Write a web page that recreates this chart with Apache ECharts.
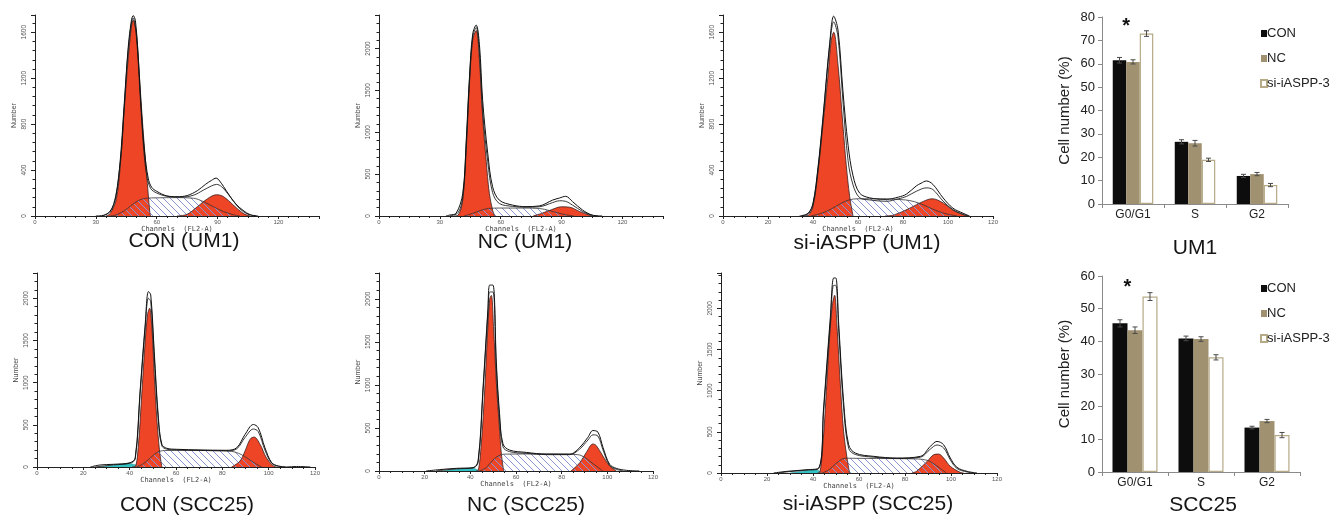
<!DOCTYPE html>
<html>
<head>
<meta charset="utf-8">
<script src="https://cdn.jsdelivr.net/npm/echarts@6/dist/echarts.min.js"></script>
<style>
  html, body { margin: 0; background: #fff; }
  #main { width: 1334px; height: 515px; }
</style>
</head>
<body>
<div id="main"></div>
<script>
// ---- histogram data: [channel, count] ----
var UM1_CON_RAW = [[30,0],[35,12],[38,70],[40,180],[42,480],[44,980],[46,1480],[47.5,1700],[48.4,1745],[49.5,1700],[51,1350],[52.5,900],[54,560],[55.8,330],[57.5,250],[60,215],[65,175],[70,168],[75,178],[80,220],[84,275],[87,310],[89.3,330],[91,305],[93,255],[96,175],[99,105],[102.5,50],[106,12],[110,0]];
var UM1_CON_FIT = [[33,0],[38,60],[42,460],[44,950],[46,1450],[48.4,1725],[50,1560],[52,1000],[53.5,600],[55,360],[57,240],[60,200],[65,172],[72,165],[78,180],[83,225],[87,262],[89.5,275],[92,255],[95,195],[98,125],[101,62],[105,15],[109,0]];
var UM1_CON_G1 = [[35,0],[37,20],[40,140],[42,430],[44.3,1000],[46.8,1530],[48.4,1705],[50,1590],[51.7,1150],[53.4,720],[55,370],[56.6,30],[57,0]];
var UM1_CON_S = [[37,0],[40,10],[44,45],[47,85],[51,135],[55,155],[60,158],[70,160],[78,155],[83,125],[88,80],[93,38],[98,10],[101,0]];
var UM1_CON_G2 = [[70,0],[75,15],[80,80],[85,150],[89.5,185],[93,168],[97.7,96],[102.6,23],[106,0]];
var UM1_CON_MARKS = [47, 88];

var UM1_NC_RAW = [[33,0],[35,12],[38,32],[41.3,270],[43,900],[44.6,1660],[46.2,2175],[47.9,2280],[49.5,2050],[51.1,1380],[53.6,750],[56,350],[59.3,190],[65.9,130],[72.5,112],[79,120],[85.6,190],[89,215],[92,235],[95.4,172],[100.3,72],[105,12],[110,0]];
var UM1_NC_FIT = [[35,0],[39,40],[41.3,230],[43,850],[44.6,1620],[46.2,2140],[47.9,2250],[49.5,1950],[51.1,1250],[53.6,650],[56,280],[59.3,150],[65.9,115],[72.5,105],[79,110],[85.6,160],[89,182],[92,175],[95.4,130],[100.3,55],[105,8],[108,0]];
var UM1_NC_G1 = [[37,0],[39,10],[41.3,190],[43,790],[44.6,1580],[46.2,2100],[47.9,2215],[49.5,1860],[51.1,1180],[52.8,670],[54.4,270],[56,70],[57,0]];
var UM1_NC_S = [[42,0],[46,30],[50,65],[54,90],[60,95],[70,95],[79,90],[84,65],[88,38],[92,15],[96,0]];
var UM1_NC_G2 = [[76,0],[80,30],[85,75],[90,110],[94,105],[99,52],[103.5,12],[105,0]];
var UM1_NC_MARKS = [47, 92];

var UM1_SI_RAW = [[34,0],[37.8,24],[40,112],[42.2,420],[44.4,850],[47.4,1500],[49.2,1740],[51.1,1620],[53.3,1090],[55.6,615],[57.8,350],[60.7,200],[65.2,158],[72.6,145],[78,165],[81.5,190],[85.9,262],[88,285],[90.4,305],[93.3,275],[97.8,158],[102.2,68],[106.7,24],[109.6,0]];
var UM1_SI_FIT = [[35,0],[38,20],[40,100],[42.2,400],[44.4,830],[47.4,1480],[49.2,1690],[51.1,1560],[53.3,1000],[55.6,480],[57.8,270],[60.7,160],[65.2,140],[72.6,128],[78,150],[81.5,170],[85.9,215],[90.4,245],[93.3,230],[97.8,130],[102.2,55],[106.7,15],[109,0]];
var UM1_SI_G1 = [[36,0],[37.8,5],[40,83],[42.2,380],[44.4,790],[46.7,1230],[48.1,1530],[49.2,1600],[51.1,1320],[53.3,790],[54.8,440],[56.3,170],[57.8,0]];
var UM1_SI_S = [[39,0],[44,25],[48,60],[52,105],[56,140],[60,150],[70,150],[81,140],[85,125],[89,97],[93,62],[96,38],[100,15],[104,0]];
var UM1_SI_G2 = [[72,0],[76,9],[83,68],[89,127],[93,150],[98,112],[102,53],[107,9],[109,0]];
var UM1_SI_MARKS = [48, 95.5];

var SCC_CON_RAW = [[23,0],[27.3,24],[33,32],[40.2,51],[42.4,110],[44.5,900],[46.7,1690],[48.1,2080],[49.1,2040],[50.6,1370],[52.4,583],[53.9,270],[56,222],[60.3,210],[70.4,202],[81.9,198],[86.2,228],[89.8,386],[93.4,504],[95.5,465],[98.4,228],[101.3,51],[104.2,12],[107.8,0],[112,6],[118,0]];
var SCC_CON_FIT = [[25,0],[33,25],[40.2,45],[42.4,95],[44.5,860],[46.7,1650],[48.1,2000],[49.1,1960],[50.6,1300],[52.4,540],[53.9,250],[56,212],[60.3,202],[70.4,196],[81.9,192],[86.2,215],[89.8,350],[93.4,450],[95.5,420],[98.4,200],[101.3,45],[104.2,8],[107,0]];
var SCC_CON_DEB = [[27,0],[31,12],[35,30],[40,38],[43,20],[44,0]];
var SCC_CON_G1 = [[41,0],[42.4,5],[43.8,270],[45.3,900],[46.7,1490],[47.7,1805],[48.6,1883],[49.6,1650],[50.6,1095],[51.7,583],[52.9,190],[53.9,0]];
var SCC_CON_S = [[43,0],[46,40],[49,110],[52,175],[55,195],[65,198],[75,195],[84,185],[88,150],[91,100],[94,45],[97,0]];
var SCC_CON_G2 = [[84,0],[87.6,70],[89.8,190],[92,330],[93.7,355],[96.3,268],[99,110],[102,12],[103.5,0]];
var SCC_CON_MARKS = [48.6, 93.4];

var SCC_NC_RAW = [[20.7,0],[26.6,16],[33.9,31],[41.2,39],[43.4,118],[45.5,940],[47.7,1880],[48.5,2160],[49.9,2160],[51.4,1254],[52.8,666],[54.3,314],[57.2,243],[64.5,216],[73.3,196],[83.5,196],[87.9,274],[91.5,392],[93.7,470],[95.9,451],[98.1,274],[101,78],[103.9,31],[108.3,8],[114,0]];
var SCC_NC_FIT = [[25,0],[33.9,25],[41.2,35],[43.4,100],[45.5,900],[47.7,1830],[48.5,2080],[49.9,2080],[51.4,1180],[52.8,600],[54.3,280],[57.2,225],[64.5,205],[73.3,190],[83.5,190],[87.9,255],[91.5,360],[93.7,420],[95.9,405],[98.1,245],[101,65],[103.9,20],[107,0]];
var SCC_NC_DEB = [[28,0],[32,15],[37,28],[41,32],[43,15],[44,0]];
var SCC_NC_G1 = [[42.5,0],[43.4,5],[44.8,314],[46.3,940],[47.4,1530],[48.5,2000],[49.2,2040],[50.2,1650],[51.4,1020],[52.6,550],[53.6,196],[54.6,0]];
var SCC_NC_S = [[44,0],[47,40],[50,130],[53,185],[56,196],[70,198],[80,196],[87,190],[90,160],[92.5,110],[95,60],[98,0]];
var SCC_NC_G2 = [[84,0],[85,20],[88,98],[90.8,216],[93.7,314],[95.2,294],[98,176],[101,59],[104,0]];
var SCC_NC_MARKS = [48.2, 93];

var SCC_SI_RAW = [[22.9,0],[28.7,20],[37.4,40],[42.5,61],[44.6,790],[47.5,1880],[49,2370],[49.9,2370],[51.2,1800],[53.3,870],[55.5,343],[58.4,242],[66.4,202],[76.5,182],[86.7,202],[91,323],[93.9,384],[96.8,343],[99.7,182],[102.6,69],[107,20],[111.3,0]];
var SCC_SI_FIT = [[25,0],[30,18],[37.4,35],[42.5,55],[44.6,740],[47.5,1820],[49,2280],[49.9,2280],[51.2,1720],[53.3,800],[55.5,300],[58.4,225],[66.4,192],[76.5,176],[86.7,192],[91,290],[93.9,340],[96.8,305],[99.7,160],[102.6,55],[107,12],[110,0]];
var SCC_SI_DEB = [[30,0],[33,12],[37,28],[41,38],[43,20],[44,0]];
var SCC_SI_G1 = [[42,0],[42.9,5],[44.3,343],[45.8,990],[47.2,1636],[48.4,2040],[49.4,2160],[50.4,1800],[51.9,1070],[53.3,505],[54.8,182],[55.9,0]];
var SCC_SI_S = [[44,0],[47,40],[50,115],[54,180],[60,178],[75,175],[86,170],[89,158],[91,140],[95,61],[98,0]];
var SCC_SI_G2 = [[83,0],[85,20],[89.6,140],[92.5,222],[94.6,230],[96.8,182],[99.7,81],[104,8],[105.5,0]];
var SCC_SI_MARKS = [49.3, 95];

// ---- bar chart data ----
var phases = ['G0/G1', 'S', 'G2'];
var groups = ['CON', 'NC', 'si-iASPP-3'];
var UM1_CON = [61.5, 26.6, 12.0];
var UM1_NC = [60.8, 26.0, 12.8];
var UM1_SI = [72.9, 18.9, 8.1];
var UM1_CON_ERR = [1.2, 0.9, 0.7];
var UM1_NC_ERR = [0.9, 1.2, 0.7];
var UM1_SI_ERR = [1.2, 0.7, 0.7];
var SCC_CON = [45.5, 40.9, 13.6];
var SCC_NC = [43.4, 40.7, 15.6];
var SCC_SI = [53.7, 35.1, 11.3];
var SCC_CON_ERR = [1.1, 0.7, 0.4];
var SCC_NC_ERR = [1.0, 0.7, 0.5];
var SCC_SI_ERR = [1.2, 0.8, 0.8];
var UM1_STAR = 76;
var SCC_STAR = 56.5;

var FONT = '"Liberation Sans", Arial, sans-serif';
var RED = '#ee4526';

function hatchCanvas() {
  var c = document.createElement('canvas');
  c.width = 7; c.height = 7;
  var ctx = c.getContext('2d');
  ctx.strokeStyle = '#8c95d4';
  ctx.lineWidth = 1;
  ctx.beginPath();
  ctx.moveTo(0, 0); ctx.lineTo(7, 7);
  ctx.moveTo(-1, 6); ctx.lineTo(1, 8);
  ctx.moveTo(6, -1); ctx.lineTo(8, 1);
  ctx.stroke();
  return c;
}
var HATCH = hatchCanvas();

var panels = [
  { title: 'CON (UM1)', tx: 184, ty: 241, grid: { left: 35, top: 15, width: 284, height: 201 }, xmax: 140, xstep: 30, xminor: 6, ymax: 1750, ystep: 400,
    raw: UM1_CON_RAW, fit: UM1_CON_FIT, g1: UM1_CON_G1, s: UM1_CON_S, g2: UM1_CON_G2, deb: null, marks: UM1_CON_MARKS },
  { title: 'NC (UM1)', tx: 525, ty: 242, grid: { left: 379, top: 15, width: 284, height: 201 }, xmax: 140, xstep: 30, xminor: 6, ymax: 2400, ystep: 500,
    raw: UM1_NC_RAW, fit: UM1_NC_FIT, g1: UM1_NC_G1, s: UM1_NC_S, g2: UM1_NC_G2, deb: null, marks: UM1_NC_MARKS },
  { title: 'si-iASPP (UM1)', tx: 867, ty: 243, grid: { left: 723, top: 15, width: 270, height: 201 }, xmax: 120, xstep: 20, xminor: 4, ymax: 1750, ystep: 400,
    raw: UM1_SI_RAW, fit: UM1_SI_FIT, g1: UM1_SI_G1, s: UM1_SI_S, g2: UM1_SI_G2, deb: null, marks: UM1_SI_MARKS },
  { title: 'CON (SCC25)', tx: 187, ty: 505, grid: { left: 37, top: 273, width: 278, height: 194 }, xmax: 120, xstep: 20, xminor: 4, ymax: 2300, ystep: 500,
    raw: SCC_CON_RAW, fit: SCC_CON_FIT, g1: SCC_CON_G1, s: SCC_CON_S, g2: SCC_CON_G2, deb: SCC_CON_DEB, marks: SCC_CON_MARKS },
  { title: 'NC (SCC25)', tx: 526, ty: 505, grid: { left: 379, top: 273, width: 274, height: 198 }, xmax: 120, xstep: 20, xminor: 4, ymax: 2300, ystep: 500,
    raw: SCC_NC_RAW, fit: SCC_NC_FIT, g1: SCC_NC_G1, s: SCC_NC_S, g2: SCC_NC_G2, deb: SCC_NC_DEB, marks: SCC_NC_MARKS },
  { title: 'si-iASPP (SCC25)', tx: 868, ty: 504, grid: { left: 721, top: 273, width: 276, height: 200 }, xmax: 120, xstep: 20, xminor: 4, ymax: 2430, ystep: 500,
    raw: SCC_SI_RAW, fit: SCC_SI_FIT, g1: SCC_SI_G1, s: SCC_SI_S, g2: SCC_SI_G2, deb: SCC_SI_DEB, marks: SCC_SI_MARKS }
];

var bars = [
  { title: 'UM1', tx: 1195, ty: 248, grid: { left: 1102, top: 17, width: 186, height: 187 }, ymax: 80, bw: 13.5,
    vals: [UM1_CON, UM1_NC, UM1_SI], errs: [UM1_CON_ERR, UM1_NC_ERR, UM1_SI_ERR], star: UM1_STAR, legendTop: 22 },
  { title: 'SCC25', tx: 1203, ty: 505, grid: { left: 1102, top: 276, width: 198, height: 196 }, ymax: 60, bw: 15,
    vals: [SCC_CON, SCC_NC, SCC_SI], errs: [SCC_CON_ERR, SCC_NC_ERR, SCC_SI_ERR], star: SCC_STAR, legendTop: 277 }
];

function plain(v) { return String(v); }

var grids = [], xAxes = [], yAxes = [], series = [], graphics = [], legends = [];

panels.forEach(function (p, i) {
  grids.push(p.grid);
  xAxes.push({
    type: 'value', gridIndex: i, min: 0, max: p.xmax, interval: p.xstep,
    axisLine: { lineStyle: { color: '#222', width: 1 } },
    axisTick: { length: 3, lineStyle: { color: '#222' } },
    minorTick: { show: true, splitNumber: p.xminor, length: 2, lineStyle: { color: '#222' } },
    splitLine: { show: false },
    axisLabel: { fontSize: 6, color: '#555', margin: 3, formatter: plain, showMaxLabel: p.xmax % p.xstep === 0 },
    name: 'Channels  (FL2-A)', nameLocation: 'middle', nameGap: 9,
    nameTextStyle: { fontSize: 7, color: '#444', fontFamily: '"DejaVu Sans Mono", monospace' }
  });
  yAxes.push({
    type: 'value', gridIndex: i, min: 0, max: p.ymax, interval: p.ystep,
    axisLine: { show: true, lineStyle: { color: '#222', width: 1 } },
    axisTick: { show: true, length: 4, lineStyle: { color: '#222' } },
    minorTick: { show: true, splitNumber: 5, length: 2.5, lineStyle: { color: '#222' } },
    splitLine: { show: false },
    axisLabel: { fontSize: 6.5, color: '#555', rotate: 90, margin: 7, formatter: plain, showMaxLabel: false },
    name: 'Number', nameLocation: 'middle', nameGap: 17, nameRotate: 90,
    nameTextStyle: { fontSize: 7, color: '#444' }
  });
  var base = { xAxisIndex: i, yAxisIndex: i, type: 'line', symbol: 'none', smooth: 0.35, silent: true, animation: false };
  if (p.deb) {
    series.push(Object.assign({}, base, { data: p.deb,
      lineStyle: { color: '#2a9a9a', width: 0.6 }, areaStyle: { color: '#33c2c4', opacity: 1 } }));
  }
  series.push(Object.assign({}, base, { data: p.g1,
    lineStyle: { color: '#3a2020', width: 0.8 }, areaStyle: { color: RED, opacity: 1 } }));
  series.push(Object.assign({}, base, { data: p.g2,
    lineStyle: { color: '#3a2020', width: 0.8 }, areaStyle: { color: RED, opacity: 1 } }));
  series.push(Object.assign({}, base, { data: p.s,
    lineStyle: { color: '#333', width: 0.8 }, areaStyle: { color: { image: HATCH, repeat: 'repeat' }, opacity: 1 } }));
  series.push(Object.assign({}, base, { data: p.fit, lineStyle: { color: '#222', width: 0.9 } }));
  series.push(Object.assign({}, base, { data: p.raw, lineStyle: { color: '#111', width: 1 } }));
  series.push({ type: 'scatter', xAxisIndex: i, yAxisIndex: i, silent: true, animation: false,
    symbol: 'triangle', symbolSize: [5, 4], symbolOffset: [0, -2],
    itemStyle: { color: '#111' },
    data: p.marks.map(function (m) { return [m, 0]; }) });
  graphics.push({ type: 'text', x: p.tx, y: p.ty,
    style: { text: p.title, fontSize: 21, fontFamily: FONT, fill: '#151515', align: 'center', verticalAlign: 'middle' } });
});

var barColors = ['#0d0d0d', '#a09271', '#ffffff'];
bars.forEach(function (b, j) {
  var gi = panels.length + j;
  grids.push(b.grid);
  xAxes.push({
    type: 'category', gridIndex: gi, data: phases,
    axisLine: { lineStyle: { color: '#8a8a8a' } },
    axisTick: { show: true, length: 4, lineStyle: { color: '#8a8a8a' } },
    axisLabel: { fontSize: 12, color: '#222', margin: 5, fontFamily: FONT }
  });
  yAxes.push({
    type: 'value', gridIndex: gi, min: 0, max: b.ymax, interval: 10,
    axisLine: { show: true, lineStyle: { color: '#8a8a8a' } },
    axisTick: { show: true, length: 4, lineStyle: { color: '#8a8a8a' } },
    splitLine: { show: false },
    axisLabel: { fontSize: 13, color: '#222', margin: 7, fontFamily: FONT },
    name: 'Cell number (%)', nameLocation: 'middle', nameGap: 30,
    nameTextStyle: { fontSize: 15, color: '#222', fontFamily: FONT }
  });
  groups.forEach(function (g, k) {
    series.push({
      type: 'bar', name: g, xAxisIndex: gi, yAxisIndex: gi, data: b.vals[k],
      barWidth: b.bw, barGap: '0%', animation: false,
      itemStyle: k === 2 ? { color: '#ffffff', borderColor: '#b6aa88', borderWidth: 1.2 } : { color: barColors[k] }
    });
    series.push({
      type: 'custom', xAxisIndex: gi, yAxisIndex: gi, silent: true, animation: false, z: 5,
      data: b.vals[k].map(function (v, i) { return [i, v, b.errs[k][i]]; }),
      renderItem: (function (off) {
        return function (params, api) {
          var hi = api.coord([api.value(0), api.value(1) + api.value(2)]);
          var lo = api.coord([api.value(0), api.value(1) - api.value(2)]);
          var x = hi[0] + off;
          var st = { stroke: '#4a4a4a', lineWidth: 1 };
          return { type: 'group', children: [
            { type: 'line', shape: { x1: x, y1: hi[1], x2: x, y2: lo[1] }, style: st },
            { type: 'line', shape: { x1: x - 2.5, y1: hi[1], x2: x + 2.5, y2: hi[1] }, style: st },
            { type: 'line', shape: { x1: x - 2.5, y1: lo[1], x2: x + 2.5, y2: lo[1] }, style: st }
          ] };
        };
      })((k - 1) * b.bw)
    });
  });
  // significance star over G0/G1
  series.push({
    type: 'custom', xAxisIndex: gi, yAxisIndex: gi, silent: true, animation: false, z: 6,
    data: [[0, b.star]],
    renderItem: (function (off) {
      return function (params, api) {
        var c = api.coord([api.value(0), api.value(1)]);
        return { type: 'text', x: c[0] + off, y: c[1],
          style: { text: '*', fontSize: 20, fontWeight: 'bold', fontFamily: FONT, fill: '#111', align: 'center', verticalAlign: 'middle' } };
      };
    })(-b.bw / 2)
  });
  legends.push({
    data: groups, orient: 'vertical', left: 1255, top: b.legendTop,
    itemWidth: 6, itemHeight: 7, itemGap: 12, icon: 'rect', selectedMode: false,
    textStyle: { fontSize: 13, color: '#222', fontFamily: FONT, padding: [0, 0, 0, -5] }
  });
  graphics.push({ type: 'text', x: b.tx, y: b.ty,
    style: { text: b.title, fontSize: 21, fontFamily: FONT, fill: '#151515', align: 'center', verticalAlign: 'middle' } });
});

var chart = echarts.init(document.getElementById('main'), null, { renderer: 'canvas' });
chart.setOption({
  backgroundColor: '#ffffff',
  animation: false,
  textStyle: { fontFamily: FONT },
  grid: grids,
  xAxis: xAxes,
  yAxis: yAxes,
  legend: legends,
  graphic: graphics,
  series: series
});
</script>
</body>
</html>
